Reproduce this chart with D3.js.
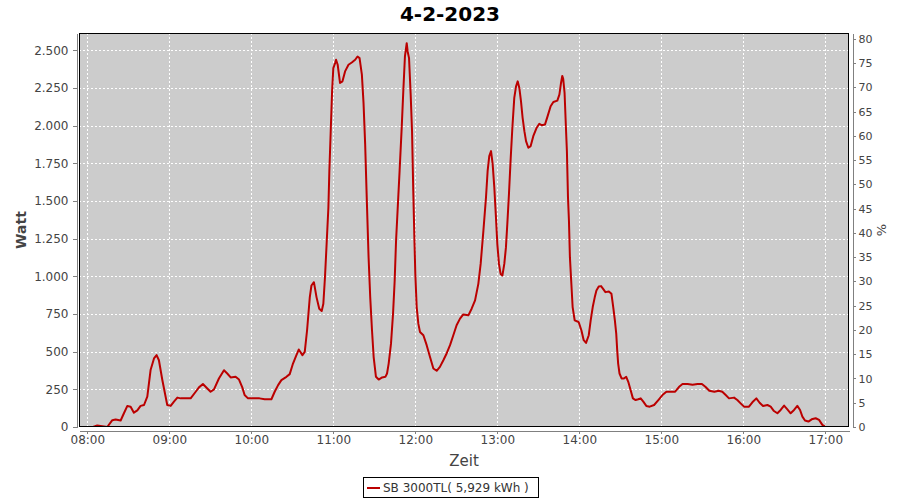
<!DOCTYPE html>
<html>
<head>
<meta charset="utf-8">
<script src="https://cdn.jsdelivr.net/npm/d3@7"></script>
<style>
  html, body { margin: 0; padding: 0; background: #ffffff; }
  svg { display: block; font-family: "DejaVu Sans", sans-serif; }
</style>
</head>
<body>
<svg id="chart" width="900" height="500"></svg>
<script>
// ---------- data ----------
const chartTitle = "4-2-2023";
const seriesName = "SB 3000TL( 5,929 kWh )";
const xTitle = "Zeit";
const yTitle = "Watt";
const y2Title = "%";
const hourTicks = ["08:00","09:00","10:00","11:00","12:00","13:00","14:00","15:00","16:00","17:00"];
const wattTicks = [0,250,500,750,1000,1250,1500,1750,2000,2250,2500];
const percentTicks = [0,5,10,15,20,25,30,35,40,45,50,55,60,65,70,75,80];

// minutes after 08:00
const minutesSince0800 = [
  4.1,7.3,14.6,18.3,20.7,24.4,26.8,29.3,31.7,34.1,36.6,39.0,41.5,43.9,46.3,48.8,50.7,52.4,54.9,56.8,
  58.5,61.0,63.4,65.9,68.3,75.6,79.3,81.7,84.6,87.8,90.2,92.7,96.3,100,102.4,104.9,108.5,111,113.4,115.1,
  117.6,126,129.8,134.7,137.1,139.6,142,145.7,148.1,150.5,153,154.7,157.4,159.1,160.8,162.8,164,165.8,167.7,169.7,
  171.5,172.7,173.9,175.1,176.4,177.1,178.1,179.1,180,181.3,182,183.2,184.9,186.7,188.6,191.1,193.5,196,197.7,199.2,
  200.9,202.1,203.3,204.6,205.8,207,208.3,209.5,211.2,213.2,215.7,218.1,219.3,220.5,222.2,223.7,224.9,225.9,227.1,228.5,
  230,231.2,232.4,233.7,234.4,235.4,236.6,237.6,238.5,239.3,240,241,242.2,243.4,245.9,248.3,250.7,253.2,255.6,258,
  260.5,262.9,265.4,267.8,270.2,272.7,275.1,278.8,281.2,283.7,286.1,287.8,289.8,291.7,292.9,294.1,295.4,296.6,297.8,299,
  300,301.2,302.4,303.7,305.1,306.3,307.3,308.5,309.8,311,312.4,313.7,314.9,316.1,317.3,318.5,319.8,321,322.7,324.4,
  326.3,328.8,330.7,332.4,334.9,336.8,339,341,343.9,345.4,346.6,347.5,348.2,349.2,350.2,350.9,351.7,352.4,353.1,353.9,
  355.1,356.6,359.5,361.5,363.2,364.9,366.9,368.3,369.8,371.3,372.5,374.2,375.9,377.4,379.1,381.6,383.5,384.8,386,387,
  387.7,388.4,389.4,390.9,392.6,394.3,395.8,397.5,399.2,401.2,403.1,404.9,406.8,409,411.5,414.7,417.8,420.8,423.7,426.9,
  430.1,433,435.5,439.2,442.8,446.5,449.7,452.2,455.1,458.8,462,464.6,467.1,469.5,473.2,475.6,478,480.5,484.1,486.6,
  489.5,491.9,494.4,497.6,500,502.4,504.9,507.3,509.8,512.2,514.6,517.1,519.5,521.5,523.2,525.1,527.6,530,532.9,535.4,
  537.8,539.8,542.5,545.0,546.0
];
const watts = [
  0,10,0,45,50,43,91,140,135,95,110,140,146,201,378,455,477,443,312,224,
  146,140,168,195,190,190,234,263,285,256,234,250,322,377,355,329,333,315,263,212,
  190,190,184,184,234,278,311,333,351,421,477,514,477,499,642,862,939,961,862,785,
  770,818,994,1214,1457,1699,1963,2228,2382,2415,2437,2404,2283,2294,2360,2404,2419,2437,2459,2448,
  2338,2151,1876,1479,1127,862,642,466,333,315,329,333,355,421,553,752,972,1236,1450,1700,
  1980,2228,2459,2547,2492,2448,2206,1963,1567,1258,1016,796,686,631,609,543,466,388,373,399,
  443,488,543,609,675,719,747,741,785,840,950,1082,1302,1523,1699,1798,1831,1743,1589,1391,
  1214,1082,1016,1005,1082,1192,1346,1545,1787,1986,2184,2261,2294,2250,2162,2052,1963,1897,1853,1864,
  1930,1986,2012,2003,2008,2063,2129,2157,2166,2206,2283,2330,2310,2217,1986,1831,1523,1369,1127,994,
  796,708,697,642,576,558,609,708,796,862,906,932,935,917,895,899,884,796,708,620,
  510,421,355,322,322,333,300,245,190,179,184,190,168,140,135,146,179,212,234,234,
  234,267,285,285,280,285,285,267,241,234,241,234,212,190,195,179,157,135,135,164,
  190,161,140,146,135,106,91,113,142,117,91,113,140,113,69,43,36,51,58,47,
  14,3,null,0,0
];

// ---------- layout ----------
const svg = d3.select("#chart");
const plot = { left: 79, right: 849, top: 33, bottom: 427 };
const base = new Date(2023, 1, 4, 8, 0, 0);
const toDate = m => new Date(base.getTime() + m * 60000);
const parseHM = d3.timeParse("%Y-%m-%d %H:%M");

const x = d3.scaleTime()
  .domain([toDate(-6.07), toDate(557.3)])
  .range([plot.left, plot.right]);
const y = d3.scaleLinear().domain([0, 2614.7]).range([plot.bottom, plot.top]);
const y2 = d3.scaleLinear().domain([0, 81.2]).range([plot.bottom, plot.top]);

const de = d3.formatLocale({ decimal: ",", thousands: ".", grouping: [3], currency: ["", " €"] });
const fmtWatt = de.format(",d");

const data = minutesSince0800.map((m, i) => ({ t: toDate(m), v: watts[i] }));
const hourDates = hourTicks.map(h => parseHM("2023-02-04 " + h));

// plot background
svg.append("rect")
  .attr("x", plot.left).attr("y", plot.top)
  .attr("width", plot.right - plot.left).attr("height", plot.bottom - plot.top)
  .attr("fill", "#cccccc");

// grid
const grid = svg.append("g").attr("stroke", "#ffffff").attr("stroke-width", 1)
  .attr("stroke-dasharray", "2,2").attr("shape-rendering", "crispEdges");
grid.selectAll("line.h").data(wattTicks.slice(1)).join("line")
  .attr("x1", plot.left).attr("x2", plot.right)
  .attr("y1", d => Math.round(y(d)) + 0.5).attr("y2", d => Math.round(y(d)) + 0.5);
grid.selectAll("line.v").data(hourDates).join("line")
  .attr("y1", plot.top).attr("y2", plot.bottom)
  .attr("x1", d => Math.round(x(d)) + 0.5).attr("x2", d => Math.round(x(d)) + 0.5);

// series line
const clip = svg.append("clipPath").attr("id", "clip").append("rect")
  .attr("x", plot.left).attr("y", plot.top - 2)
  .attr("width", plot.right - plot.left).attr("height", plot.bottom - plot.top + 2);
const line = d3.line().defined(d => d.v != null).x(d => x(d.t)).y(d => y(d.v));
svg.append("path").datum(data)
  .attr("clip-path", "url(#clip)")
  .attr("fill", "none").attr("stroke", "#bb0000").attr("stroke-width", 2)
  .attr("stroke-linejoin", "round")
  .attr("d", line);

// plot frame
svg.append("rect")
  .attr("x", plot.left + 0.5).attr("y", plot.top + 0.5)
  .attr("width", plot.right - plot.left - 1).attr("height", plot.bottom - plot.top - 1)
  .attr("fill", "none").attr("stroke", "#000000").attr("stroke-width", 1)
  .attr("shape-rendering", "crispEdges");

// axes
function styleAxis(g) {
  g.selectAll(".domain").attr("stroke", "#808080").attr("shape-rendering", "crispEdges");
  g.selectAll(".tick line").attr("stroke", "#808080").attr("shape-rendering", "crispEdges");
  g.selectAll(".tick text").attr("fill", "#444444").attr("font-size", 12)
    .attr("font-family", "'DejaVu Sans', sans-serif");
}
const yAxis = d3.axisLeft(y).tickValues(wattTicks).tickFormat(fmtWatt).tickSizeInner(4).tickSizeOuter(0).tickPadding(4);
svg.append("g").attr("transform", "translate(76.5,0)").call(yAxis).call(styleAxis);

const y2Axis = d3.axisRight(y2).tickValues(percentTicks).tickSizeInner(3).tickSizeOuter(0).tickPadding(3);
svg.append("g").attr("transform", "translate(852.5,0)").call(y2Axis).call(styleAxis)
  .selectAll(".tick text").attr("font-size", 11);

const xAxis = d3.axisBottom(x).tickValues(hourDates).tickFormat(d3.timeFormat("%H:%M"))
  .tickSizeInner(3).tickSizeOuter(0).tickPadding(2);
svg.append("g").attr("transform", "translate(0,430.5)").call(xAxis).call(styleAxis);

// titles
svg.append("text").attr("x", 450).attr("y", 21).attr("text-anchor", "middle")
  .attr("font-size", 20).attr("font-weight", "bold").attr("fill", "#000")
  .text(chartTitle);
svg.append("text").attr("x", 464).attr("y", 466).attr("text-anchor", "middle")
  .attr("font-size", 15).attr("fill", "#444444").text(xTitle);
svg.append("text").attr("transform", "translate(26,230) rotate(-90)").attr("text-anchor", "middle")
  .attr("font-size", 14).attr("font-weight", "bold").attr("fill", "#444444").text(yTitle);
svg.append("text").attr("transform", "translate(886,230) rotate(-90)").attr("text-anchor", "middle")
  .attr("font-size", 13).attr("fill", "#444444").text(y2Title);

// legend
const lg = svg.append("g");
lg.append("rect").attr("x", 363.5).attr("y", 477.5).attr("width", 175).attr("height", 20)
  .attr("fill", "#ffffff").attr("stroke", "#000000").attr("shape-rendering", "crispEdges");
lg.append("line").attr("x1", 367).attr("x2", 380).attr("y1", 488).attr("y2", 488)
  .attr("stroke", "#bb0000").attr("stroke-width", 2);
lg.append("text").attr("x", 383).attr("y", 492).attr("font-size", 12).attr("fill", "#333333")
  .text(seriesName);
</script>
</body>
</html>
